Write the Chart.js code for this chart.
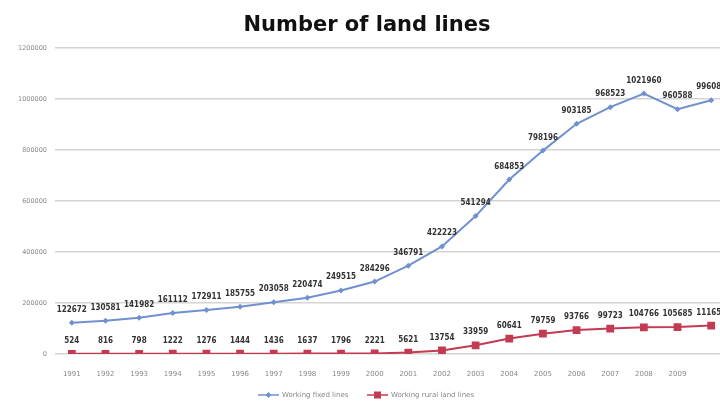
<!DOCTYPE html>
<html>
<head>
<meta charset="utf-8">
<script src="https://cdn.jsdelivr.net/npm/chart.js@4"></script>
<style>
  body { margin: 0; background: #fff; }
  .wrap { width: 720px; height: 410px; overflow: hidden; }
  .box { width: 758px; height: 410px; }
</style>
</head>
<body>
<div class="wrap"><div class="box"><canvas id="myChart"></canvas></div></div>
<script>
const years = ["1991","1992","1993","1994","1995","1996","1997","1998","1999","2000",
  "2001","2002","2003","2004","2005","2006","2007","2008","2009","2010"];
const fixedLines = [122672, 130581, 141982, 161112, 172911, 185755, 203058, 220474, 249515, 284296,
  346791, 422223, 541294, 684853, 798196, 903185, 968523, 1021960, 960588, 996089];
const ruralLines = [524, 816, 798, 1222, 1276, 1444, 1436, 1637, 1796, 2221,
  5621, 13754, 33959, 60641, 79759, 93766, 99723, 104766, 105685, 111650];
const yTicks = [0, 200000, 400000, 600000, 800000, 1000000, 1200000];
const seriesNames = ["Working fixed lines", "Working rural land lines"];

const blue = "#7190cf";
const red = "#c23b52";

// value labels above each point + hand drawn legend
const labelPlugin = {
  id: "valueLabels",
  afterDatasetsDraw(chart) {
    const ctx = chart.ctx;
    ctx.save();
    ctx.font = 'bold 8px "DejaVu Sans Condensed"';
    ctx.fillStyle = "#333";
    ctx.textAlign = "center";
    ctx.textBaseline = "middle";
    chart.data.datasets.forEach((ds, i) => {
      chart.getDatasetMeta(i).data.forEach((pt, j) => {
        ctx.fillText(String(ds.data[j]), pt.x, pt.y - 13);
      });
    });
    ctx.restore();
  },
  afterDraw(chart) {
    const ctx = chart.ctx;
    const y = 395;
    ctx.save();
    ctx.font = '7px "DejaVu Sans"';
    ctx.fillStyle = "#888";
    ctx.textBaseline = "middle";
    // blue item
    ctx.strokeStyle = blue;
    ctx.lineWidth = 1.5;
    ctx.beginPath(); ctx.moveTo(258, y); ctx.lineTo(279, y); ctx.stroke();
    ctx.fillStyle = blue;
    ctx.beginPath(); ctx.moveTo(268.5, y - 3); ctx.lineTo(271.5, y); ctx.lineTo(268.5, y + 3); ctx.lineTo(265.5, y); ctx.closePath(); ctx.fill();
    ctx.fillStyle = "#888";
    ctx.fillText(seriesNames[0], 282, y);
    // red item
    ctx.strokeStyle = red;
    ctx.beginPath(); ctx.moveTo(367, y); ctx.lineTo(388, y); ctx.stroke();
    ctx.fillStyle = red;
    ctx.fillRect(374, y - 3.5, 7, 7);
    ctx.fillStyle = "#888";
    ctx.fillText(seriesNames[1], 391, y);
    ctx.restore();
  }
};

const ctx = document.getElementById("myChart");
new Chart(ctx, {
  type: "line",
  data: {
    labels: years,
    datasets: [
      {
        label: seriesNames[0],
        data: fixedLines,
        borderColor: blue,
        backgroundColor: blue,
        borderWidth: 2,
        pointStyle: "rectRot",
        pointRadius: 3,
        pointBorderWidth: 0,
        tension: 0
      },
      {
        label: seriesNames[1],
        data: ruralLines,
        borderColor: red,
        backgroundColor: red,
        borderWidth: 2,
        pointStyle: "rect",
        pointRadius: 5.5,
        pointBorderWidth: 0,
        tension: 0
      }
    ]
  },
  plugins: [labelPlugin],
  options: {
    responsive: true,
    maintainAspectRatio: false,
    animation: false,
    layout: { padding: { top: 0, bottom: 30, left: 6, right: 30 } },
    plugins: {
      legend: { display: false },
      tooltip: { enabled: false },
      title: {
        display: true,
        text: "Number of land lines",
        color: "#111",
        font: { family: '"DejaVu Sans"', size: 21, weight: "bold" },
        padding: { top: 13, bottom: 10 }
      }
    },
    scales: {
      x: {
        offset: true,
        grid: { display: false },
        border: { display: false },
        ticks: {
          autoSkip: false,
          maxRotation: 0,
          color: "#888",
          font: { family: '"DejaVu Sans"', size: 7 },
          padding: 8,
          callback: function (v, i) { return i === years.length - 1 ? "" : this.getLabelForValue(v); }
        },
        afterFit: (s) => { s.height = 26; }
      },
      y: {
        min: 0,
        max: 1200000,
        afterBuildTicks: (s) => { s.ticks = yTicks.map((v) => ({ value: v })); },
        border: { display: false },
        grid: { color: "#d4d4d4", lineWidth: 1.5, drawTicks: false },
        ticks: {
          color: "#888",
          font: { family: '"DejaVu Sans"', size: 6.5 },
          padding: 8,
          callback: (v) => String(v)
        },
        afterFit: (s) => { s.width = 49; }
      }
    }
  }
});
</script>
</body>
</html>
